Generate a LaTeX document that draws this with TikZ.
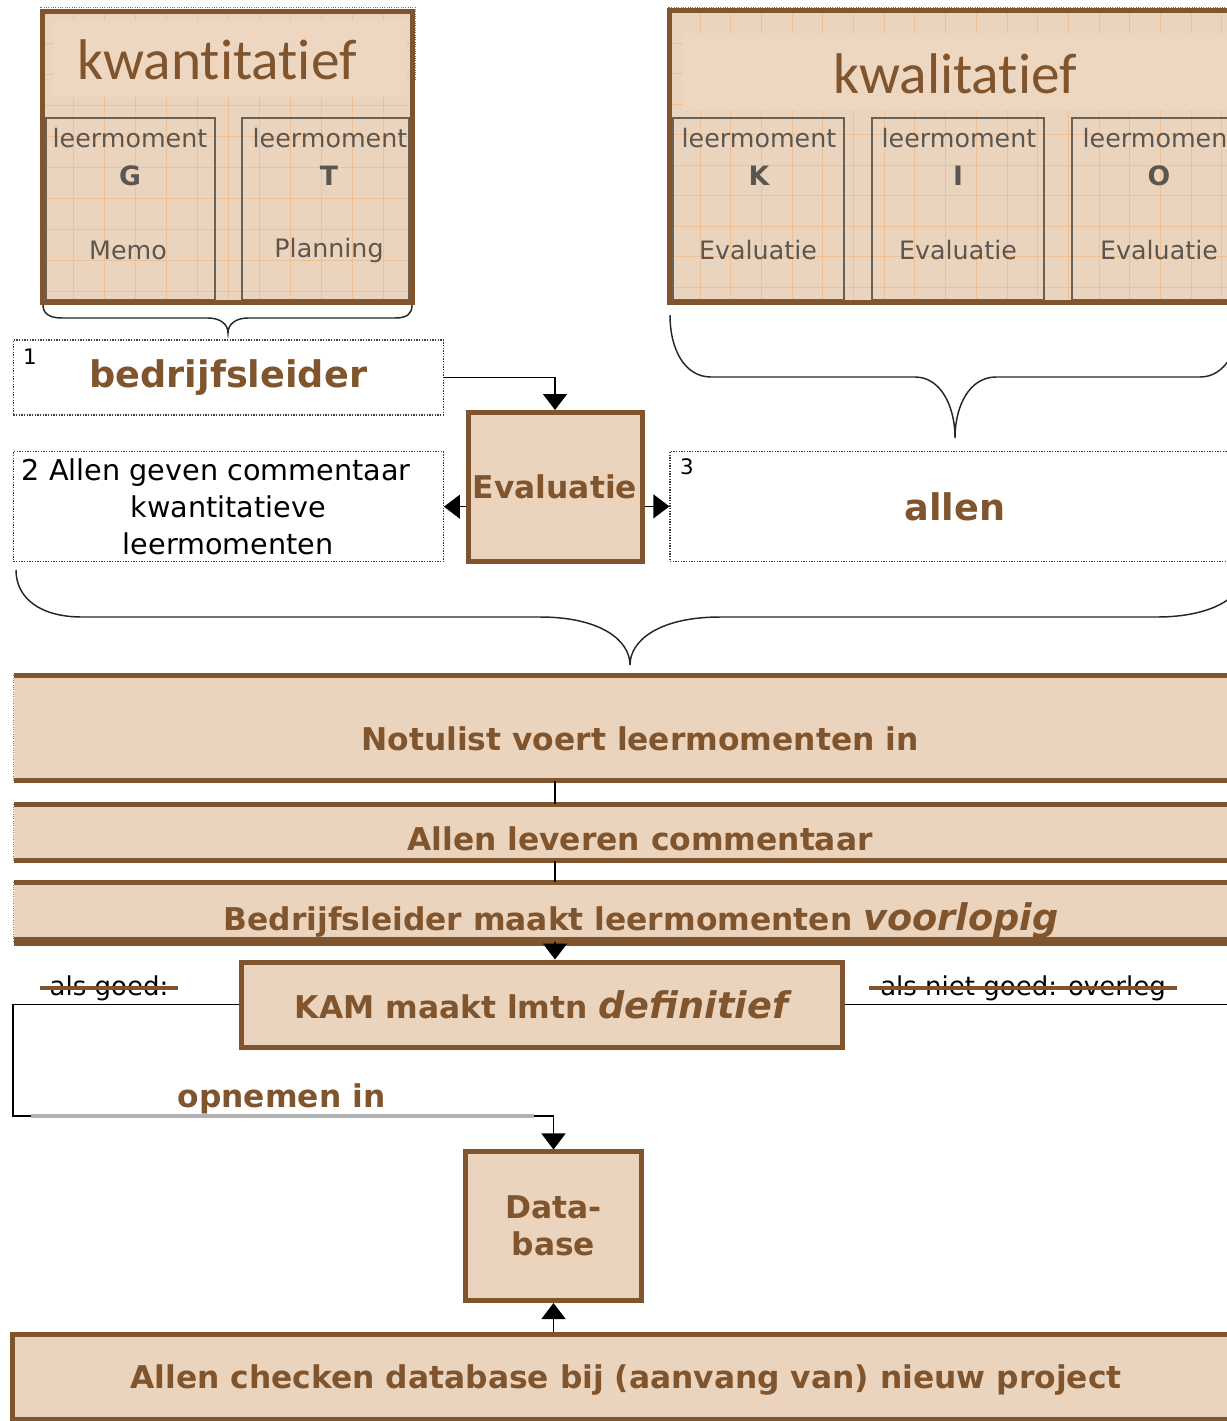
\documentclass[tikz,border=0pt]{standalone}
\usepackage{fontspec}
\setmainfont{DejaVu Sans}
\newfontfamily\kopfont[Ligatures=NoCommon]{Carlito}
\usetikzlibrary{arrows.meta}

\definecolor{bruin}{RGB}{128,84,44}
\definecolor{beige}{RGB}{235,212,189}
\definecolor{bandbeige}{RGB}{237,215,193}
\definecolor{roosterkleur}{RGB}{238,192,150}
\definecolor{kadergrijs}{RGB}{105,96,88}
\definecolor{tekstgrijs}{RGB}{92,86,80}

\newcommand{\nadruk}[1]{{\bfseries\itshape\fontsize{27.5}{30}\selectfont #1}}

\tikzset{
  vlak/.style={fill=beige, draw=none, inner sep=0pt},
  band/.style={fill=bandbeige, draw=none, inner sep=0pt},
  bruinkader/.style={fill=beige, draw=bruin, line width=3.75pt, inner sep=0pt},
  bruinlijn/.style={draw=bruin, line width=3.75pt},
  dunrand/.style={draw=black!45, densely dotted, line width=0.75pt},
  lmkader/.style={draw=kadergrijs, line width=1.5pt, inner sep=0pt},
  stippelkader/.style={draw=black!75, densely dotted, line width=1pt, inner sep=0pt},
  stippel/.style={draw=black!55, densely dotted, line width=0.75pt},
  rooster/.style={draw=roosterkleur, line width=0.75pt},
  kop/.style={font=\kopfont\fontsize{43}{50}\selectfont, text=bruin, inner sep=0pt},
  lmtekst/.style={font=\fontsize{19}{22}\selectfont, text=tekstgrijs, inner sep=0pt},
  lmletter/.style={font=\bfseries\fontsize{20}{24}\selectfont, text=tekstgrijs, inner sep=0pt},
  grootbruin/.style={font=\bfseries\fontsize{27.5}{32}\selectfont, text=bruin},
  bandtekst/.style={font=\bfseries\fontsize{23.5}{27.75}\selectfont, text=bruin, align=center},
  zwarttekst/.style={font=\fontsize{21.5}{27.75}\selectfont, align=center},
  nummer/.style={font=\fontsize{16}{18}\selectfont, inner sep=0pt},
  doorhaaltekst/.style={font=\fontsize{19.5}{22}\selectfont, inner ysep=0pt},
  doorhaal/.style={draw=bruin, line width=3pt},
  pijl/.style={draw=black, line width=1.1pt, -{Triangle[width=18pt,length=12pt]}},
  verbinding/.style={draw=black, line width=1.1pt},
  accolade/.style={draw=black!85, line width=1.1pt},
  grijsstreep/.style={draw=black!30, line width=3pt},
}

\begin{document}
\begin{tikzpicture}[x=0.75pt,y=0.75pt,yscale=-1,xscale=1]
\useasboundingbox (0,0) rectangle (1227,1421);
\clip (0,0) rectangle (1227,1421);

%Shape: Rectangle kwantitatief
\draw[stippel] (40,7) rectangle (415,80);
\node[vlak, minimum width=276.75pt, minimum height=217.9pt] (kwant) at (227.5,157.25) {};
\begin{scope}
\clip (kwant.north west) rectangle (kwant.south east);
\foreach \gx in {73,104,...,420} \draw[rooster] (\gx,0) -- (\gx,310);
\foreach \gy in {43,74,...,310} \draw[rooster] (30,\gy) -- (420,\gy);
\end{scope}
\node[band, minimum width=265.5pt, minimum height=57.5pt] (kwantband) at (230,58.3) {};
\node[lmkader, minimum width=127pt, minimum height=136.5pt] (lmG) at (130.3,209) {};
\node[lmkader, minimum width=125.5pt, minimum height=136.5pt] (lmT) at (325.3,209) {};
\draw[bruinlijn] (kwant.north west) rectangle (kwant.south east);

%Shape: Rectangle kwalitatief
\draw[stippel] (668,7) rectangle (1240,80);
\node[vlak, minimum width=427.5pt, minimum height=219pt] (kwal) at (955,156.5) {};
\begin{scope}
\clip (kwal.north west) rectangle (kwal.south east);
\foreach \gx in {700,730.7,...,1240} \draw[rooster] (\gx,0) -- (\gx,310);
\foreach \gy in {43,73.5,...,310} \draw[rooster] (660,\gy) -- (1240,\gy);
\end{scope}
\node[band, minimum width=417.75pt, minimum height=57.75pt] (kwalband) at (961.5,71.5) {};
\node[lmkader, minimum width=128.8pt, minimum height=136.5pt] (lmK) at (758.5,209) {};
\node[lmkader, minimum width=129.6pt, minimum height=136.5pt] (lmI) at (958,209) {};
\node[lmkader, minimum width=129.5pt, minimum height=136.5pt] (lmO) at (1158.6,209) {};
\draw[bruinlijn] (kwal.north west) rectangle (kwal.south east);

% Text Node
\node[kop] (kwanttekst) at (217,60) {kwantitatief};
% Text Node
\node[kop] (kwaltekst) at (955,73.5) {kwalitatief};

% Text Node
\node[lmtekst] (lmGa) at (130,138) {leermoment};
\node[lmletter] (lmGb) at (130,176) {G};
\node[lmtekst] (lmGc) at (128,250) {Memo};
% Text Node
\node[lmtekst] (lmTa) at (330,138) {leermoment};
\node[lmletter] (lmTb) at (329,176) {T};
\node[lmtekst] (lmTc) at (329,251) {Planning};
% Text Node
\node[lmtekst] (lmKa) at (759,138) {leermoment};
\node[lmletter] (lmKb) at (759,176) {K};
\node[lmtekst] (lmKc) at (758,250) {Evaluatie};
% Text Node
\node[lmtekst] (lmIa) at (959,138) {leermoment};
\node[lmletter] (lmIb) at (958,176) {I};
\node[lmtekst] (lmIc) at (958,250) {Evaluatie};
% Text Node
\node[lmtekst] (lmOa) at (1160,138) {leermoment};
\node[lmletter] (lmOb) at (1159,176) {O};
\node[lmtekst] (lmOc) at (1159,250) {Evaluatie};

%Curve Lines accolades
\draw[accolade] (43,305) .. controls (43,314) and (50,318) .. (62,318) -- (208,318) .. controls (220,318) and (228,324) .. (228,333) .. controls (228,324) and (236,318) .. (248,318) -- (395,318) .. controls (407,318) and (412,314) .. (412,305);
\draw[accolade] (670,315) .. controls (670,350) and (685,377) .. (711,377) -- (915,377) .. controls (940,377) and (955,405) .. (955,438) .. controls (955,405) and (970,377) .. (996,377) -- (1200,377) .. controls (1225,377) and (1240,350) .. (1240,315);
\draw[accolade] (16,570) .. controls (16,598) and (40,617) .. (82,617) -- (540,617) .. controls (600,617) and (630,640) .. (630,665) .. controls (630,640) and (660,617) .. (720,617) -- (1157,617) .. controls (1210,617) and (1245,598) .. (1245,570);

%Shape: Rectangle stippelkaders
\node[stippelkader, minimum width=322.5pt, minimum height=56.25pt, grootbruin] (bedr) at (228.3,377.5) {bedrijfsleider};
\node[nummer] (nr1) at (30,357) {1};
\node[stippelkader, minimum width=322.5pt, minimum height=82.5pt, zwarttekst] (allen2) at (228.3,506.7) {2 Allen geven commentaar\hspace*{18pt}\\kwantitatieve\\leermomenten};
\node[stippelkader, minimum width=427.5pt, minimum height=82.5pt, grootbruin] (allen3) at (955,506.4) {allen};
\node[nummer] (nr3) at (687,467) {3};

%Shape: Rectangle Evaluatie
\node[bruinkader, minimum width=130.5pt, minimum height=111.75pt, bandtekst] (eval) at (555,487) {Evaluatie};

%Straight Lines
\draw[pijl] (bedr.east) -| (eval.north);
\draw[pijl] (eval.west |- allen2.east) -- (allen2.east);
\draw[pijl] (eval.east |- allen3.west) -- (allen3.west);

%Shape: Rectangle banden
\node[vlak, minimum width=939pt, minimum height=78.75pt] (notulist) at (640,728) {};
\node[vlak, minimum width=939pt, minimum height=42pt] (leveren) at (640,832.5) {};
\node[vlak, minimum width=939pt, minimum height=44.25pt] (voorlopig) at (640,912) {};
\draw[bruinlijn] (notulist.north west) -- (notulist.north east) (notulist.south west) -- (notulist.south east);
\draw[bruinlijn] (leveren.north west) -- (leveren.north east) (leveren.south west) -- (leveren.south east);
\draw[bruinlijn] (voorlopig.north west) -- (voorlopig.north east);
\draw[bruinlijn, line width=6.75pt] (voorlopig.south west) -- (voorlopig.south east);
\draw[dunrand] (notulist.north west) -- (notulist.south west);
\draw[dunrand] (leveren.north west) -- (leveren.south west);
\draw[dunrand] (voorlopig.north west) -- (voorlopig.south west);

% Text Node
\node[bandtekst, inner sep=0pt] (notulisttekst) at (640,738.5) {Notulist voert leermomenten in};
% Text Node
\node[bandtekst, inner sep=0pt] (leverentekst) at (640,839) {Allen leveren commentaar};
% Text Node
\node[bandtekst, inner sep=0pt] (voorlopigtekst) at (641,921) {Bedrijfsleider maakt leermomenten \nadruk{voorlopig}};

%Shape: Rectangle KAM
\node[bruinkader, minimum width=450.75pt, minimum height=64.1pt, bandtekst] (kam) at (541.5,1004.75) {KAM maakt lmtn \nadruk{definitief}};

%Shape: Rectangle Database
\node[bruinkader, minimum width=132pt, minimum height=111.4pt, bandtekst] (db) at (553.5,1226.25) {Data-\\base};

%Shape: Rectangle onderste balk
\node[bruinkader, minimum width=921pt, minimum height=63.75pt] (checken) at (626,1376.5) {};
% Text Node
\node[bandtekst, inner sep=0pt] (checkentekst) at (626,1380) {Allen checken database bij (aanvang van) nieuw project};

%Straight Lines
\draw[verbinding] (eval.south |- notulist.south) -- (eval.south |- leveren.north);
\draw[verbinding] (eval.south |- leveren.south) -- (eval.south |- voorlopig.north);
\draw[pijl] (eval.south |- voorlopig.south) -- (eval.south |- kam.north);
\coordinate (linkshoek) at (13,1116);
\coordinate (rechtsrand) at (1227,1004.75);
\draw[pijl] (kam.west) -| (linkshoek) -| (db.north);
\draw[verbinding] (kam.east) -- (rechtsrand);
\coordinate (streepbegin) at (31,1116);
\coordinate (streepeind) at (534,1116);
\draw[grijsstreep] (streepbegin) -- (streepeind);
\draw[pijl] (db.south |- checken.north) -- (db.south);

% Text Node
\node[bandtekst, inner sep=0pt] (opnemen) at (281.5,1099) {opnemen in};
% Text Node
\node[doorhaaltekst, inner xsep=7pt] (goed) at (109,988) {als goed:};
\draw[doorhaal] (goed.west) -- (goed.east);
% Text Node
\node[doorhaaltekst, inner xsep=8pt] (nietgoed) at (1023,988) {als niet goed: overleg};
\draw[doorhaal] (nietgoed.west) -- (nietgoed.east);

\end{tikzpicture}
\end{document}
